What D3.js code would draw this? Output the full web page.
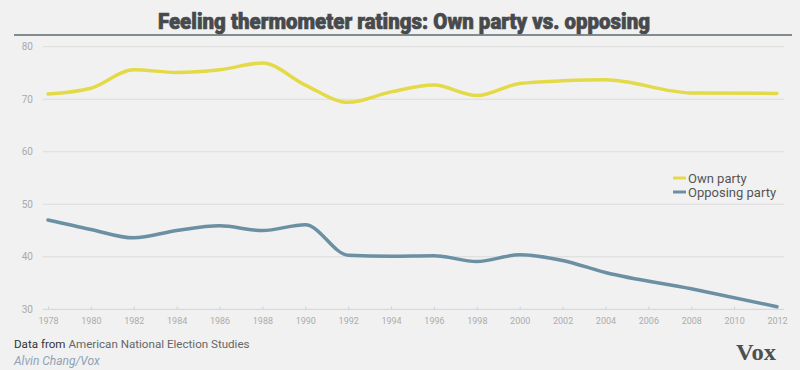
<!DOCTYPE html>
<html>
<head>
<meta charset="utf-8">
<script src="https://cdn.jsdelivr.net/npm/d3@7"></script>
<style>
  body { margin: 0; background: #f1f1f1; }
  svg { display: block; }
</style>
</head>
<body>
<svg width="800" height="370"></svg>
<script>
// data (ANES feeling thermometer)
const years    = [1978, 1980, 1982, 1984, 1986, 1988, 1990, 1992, 1994, 1996, 1998, 2000, 2002, 2004, 2008, 2012];
const ownParty = [71.0, 72.1, 75.6, 75.1, 75.6, 76.9, 72.7, 69.4, 71.4, 72.7, 70.7, 73.0, 73.5, 73.7, 71.2, 71.1];
const oppParty = [47.0, 45.2, 43.6, 45.0, 45.9, 45.0, 46.1, 40.3, 40.1, 40.2, 39.1, 40.4, 39.3, 37.0, 33.9, 30.5];
const xTicks = d3.range(1978, 2013, 2);
const yTicks = [30, 40, 50, 60, 70, 80];
const seriesNames = ['Own party', 'Opposing party'];
const colors = ['#e4da47', '#6b8fa3'];

const svg = d3.select('svg');
svg.append('rect').attr('width', 800).attr('height', 370).attr('fill', '#f1f1f1');

const x = d3.scaleLinear().domain([1978, 2012]).range([48, 777]);
const y = d3.scaleLinear().domain([30, 80]).range([309.3, 46.7]);

// title + rule (stroke thickens the bold to look like the original heavy face)
svg.append('text')
  .attr('x', 404).attr('y', 29)
  .attr('text-anchor', 'middle')
  .attr('font-family', 'Roboto, sans-serif')
  .attr('font-weight', 900)
  .attr('font-size', 22)
  .attr('fill', '#474a4c')
  .attr('stroke', '#474a4c').attr('stroke-width', 0.7)
  .attr('textLength', 492).attr('lengthAdjust', 'spacingAndGlyphs')
  .text('Feeling thermometer ratings: Own party vs. opposing');
svg.append('line')
  .attr('x1', 14).attr('x2', 792).attr('y1', 35).attr('y2', 35)
  .attr('stroke', '#5d686d').attr('stroke-width', 1.5);

// gridlines
svg.append('g').selectAll('line')
  .data(yTicks.slice(1))
  .join('line')
  .attr('x1', 43).attr('x2', 784)
  .attr('y1', d => y(d)).attr('y2', d => y(d))
  .attr('stroke', '#dcdcdc').attr('stroke-width', 1);

// y labels
svg.append('g').selectAll('text')
  .data(yTicks)
  .join('text')
  .attr('x', 33).attr('y', d => y(d) + 3.5)
  .attr('text-anchor', 'end')
  .attr('font-family', 'Roboto, sans-serif')
  .attr('font-size', 10)
  .attr('fill', '#aaaaaa')
  .text(d => d);

// x axis
const xAxis = svg.append('g')
  .attr('transform', `translate(0,${y(30)})`)
  .call(d3.axisTop(x).tickValues(xTicks).tickFormat(d3.format('d')).tickSize(3).tickSizeOuter(0));
xAxis.select('.domain').remove();
xAxis.insert('line', ':first-child')
  .attr('x1', 43).attr('x2', 784)
  .attr('stroke', '#ccd5de');
xAxis.selectAll('.tick line').attr('stroke', '#ccd5de');
xAxis.selectAll('.tick text')
  .attr('y', 15)
  .attr('font-family', 'Roboto, sans-serif')
  .attr('font-size', 9)
  .attr('fill', '#acacac');

// lines
const line = d3.line()
  .x((d, i) => x(years[i]))
  .y(d => y(d))
  .curve(d3.curveMonotoneX);

[ownParty, oppParty].forEach((vals, i) => {
  svg.append('path')
    .attr('d', line(vals))
    .attr('fill', 'none')
    .attr('stroke', colors[i])
    .attr('stroke-width', 3.5)
    .attr('stroke-linecap', 'round');
});

// legend
const legend = svg.append('g').attr('transform', 'translate(673,178)');
seriesNames.forEach((name, i) => {
  legend.append('line')
    .attr('x1', 0).attr('x2', 13)
    .attr('y1', i * 14).attr('y2', i * 14)
    .attr('stroke', colors[i]).attr('stroke-width', 3);
  legend.append('text')
    .attr('x', 15).attr('y', i * 14 + 4.5)
    .attr('font-family', 'Roboto, sans-serif')
    .attr('font-size', 13)
    .attr('fill', '#555')
    .text(name);
});

// footer
const src = svg.append('text')
  .attr('x', 14).attr('y', 348)
  .attr('font-family', 'Roboto, sans-serif')
  .attr('font-size', 11.6)
  .attr('fill', '#333');
src.append('tspan').text('Data from ');
src.append('tspan').attr('fill', '#666').text('American National Election Studies');

svg.append('text')
  .attr('x', 14).attr('y', 365)
  .attr('font-family', 'Roboto, sans-serif')
  .attr('font-size', 12)
  .attr('font-style', 'italic')
  .attr('fill', '#8ea2b6')
  .text('Alvin Chang/Vox');

svg.append('text')
  .attr('x', 736).attr('y', 360)
  .attr('font-family', '"Liberation Serif", serif')
  .attr('font-weight', 'bold')
  .attr('font-size', 24)
  .attr('fill', '#4f4f4f')
  .attr('textLength', 40).attr('lengthAdjust', 'spacingAndGlyphs')
  .text('Vox');
</script>
</body>
</html>
